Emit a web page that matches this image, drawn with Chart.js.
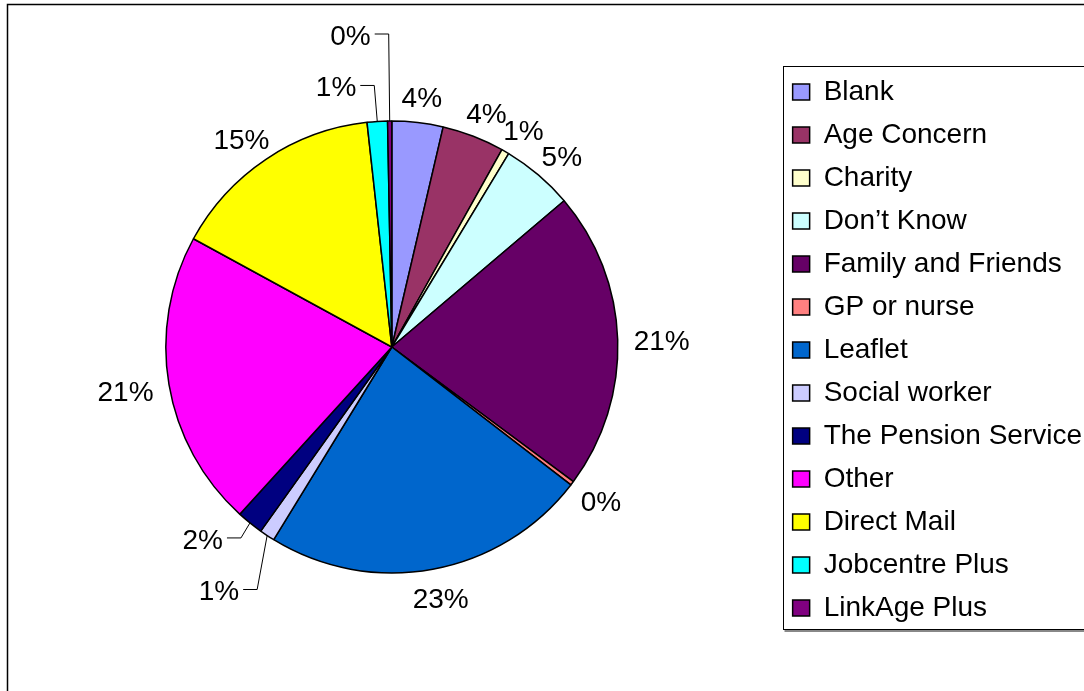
<!DOCTYPE html>
<html>
<head>
<meta charset="utf-8">
<script src="https://cdn.jsdelivr.net/npm/chart.js@4/dist/chart.umd.min.js"></script>
<style>
  html, body { margin: 0; padding: 0; background: #fff; overflow: hidden; }
</style>
</head>
<body>
<canvas id="sourceChart" width="1084" height="691"></canvas>
<script>
const categories = ["Blank", "Age Concern", "Charity", "Don\u2019t Know", "Family and Friends", "GP or nurse",
  "Leaflet", "Social worker", "The Pension Service", "Other", "Direct Mail", "Jobcentre Plus", "LinkAge Plus"];
const shares = [3.65, 4.45, 0.55, 5.15, 21.35, 0.3, 23.3, 1.1, 1.9, 21.2, 15.3, 1.45, 0.3];
const sliceColors = ["#9999FF", "#993366", "#FFFFCC", "#CCFFFF", "#660066", "#FF8080",
  "#0066CC", "#CCCCFF", "#000080", "#FF00FF", "#FFFF00", "#00FFFF", "#800080"];

const FONT = "'Liberation Sans', Arial, sans-serif";
Chart.defaults.font.family = FONT;
Chart.defaults.color = "#000";

// thin slices get an elbow leader: offset of the elbow from the rim point
const leaderElbow = { 7: [-10, 54], 8: [-9, 15], 11: [-3, -36], 12: [-1, -87] };

const percentLabels = {
  id: "percentLabels",
  afterDatasetsDraw(chart) {
    const ctx = chart.ctx;
    const meta = chart.getDatasetMeta(0);
    const values = chart.data.datasets[0].data;
    const total = values.reduce((a, b) => a + b, 0);
    ctx.save();
    ctx.font = "28px " + FONT;
    ctx.fillStyle = "#000";
    ctx.strokeStyle = "#000";
    ctx.lineWidth = 1;
    ctx.textBaseline = "middle";
    meta.data.forEach((arc, i) => {
      const p = arc.getProps(["x", "y", "startAngle", "endAngle", "outerRadius"], true);
      const mid = (p.startAngle + p.endAngle) / 2;
      const dx = Math.cos(mid), dy = Math.sin(mid);
      const text = Math.round(values[i] / total * 100) + "%";
      const w = ctx.measureText(text).width;
      if (leaderElbow[i]) {
        const sx = p.x + dx * p.outerRadius, sy = p.y + dy * p.outerRadius;
        const ex = sx + leaderElbow[i][0], ey = sy + leaderElbow[i][1];
        ctx.beginPath();
        ctx.moveTo(sx, sy);
        ctx.lineTo(ex, ey);
        ctx.lineTo(ex - 14, ey);
        ctx.stroke();
        ctx.textAlign = "right";
        ctx.fillText(text, ex - 18, ey + 3);
      } else {
        const r = p.outerRadius + 16;
        ctx.textAlign = "center";
        ctx.fillText(text, p.x + dx * r + dx * w / 2, p.y + dy * r + dy * 11 + 4);
      }
    });
    ctx.restore();
  }
};

// outer chart frame and the box round the legend; legend sits a little lower than centred
const frames = {
  id: "frames",
  afterLayout(chart) {
    chart.legend.top += 3;
    chart.legend.bottom += 3;
  },
  afterDraw(chart) {
    const ctx = chart.ctx;
    const lg = chart.legend;
    const pad = lg.options.labels.padding;
    const colH = lg.columnSizes[0].height;
    const firstTop = (lg.top + pad + lg.bottom - colH) / 2;
    ctx.save();
    ctx.strokeStyle = "#000";
    ctx.lineWidth = 1.5;
    ctx.strokeRect(7.5, 4.5, 1200, 1000);

    const left = Math.round(lg.left) + 5.5;
    const top = Math.round(firstTop) - 11.5;
    const bottom = Math.round(firstTop + colH - pad) + 7.5;
    ctx.lineWidth = 1;
    ctx.strokeRect(left, top, 1000, bottom - top);
    ctx.strokeStyle = "#888";
    ctx.lineWidth = 2;
    ctx.beginPath();
    ctx.moveTo(left + 1, bottom + 1.5);
    ctx.lineTo(1200, bottom + 1.5);
    ctx.stroke();
    ctx.restore();
  }
};

new Chart(document.getElementById("sourceChart"), {
  type: "pie",
  data: {
    labels: categories,
    datasets: [{
      data: shares,
      backgroundColor: sliceColors,
      borderColor: "#000",
      borderWidth: 1.5,
      radius: 226
    }]
  },
  options: {
    responsive: false,
    animation: false,
    layout: { padding: { left: 6, top: 41, bottom: 38, right: -8 } },
    plugins: {
      tooltip: { enabled: false },
      legend: {
        position: "right",
        align: "center",
        labels: {
          boxWidth: 17,
          boxHeight: 16,
          padding: 15,
          color: "#000",
          font: { size: 28 }
        }
      }
    }
  },
  plugins: [percentLabels, frames]
});
</script>
</body>
</html>
